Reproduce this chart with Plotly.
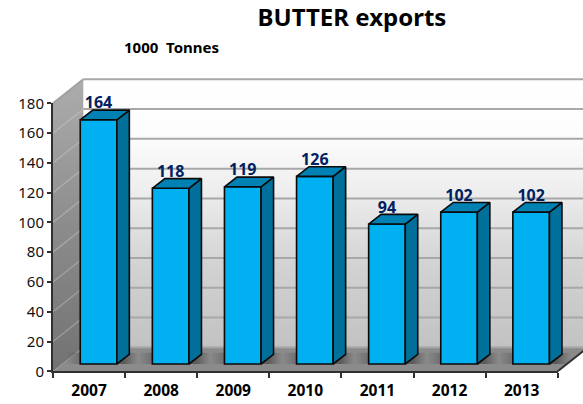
import plotly.graph_objects as go

years = ["2007", "2008", "2009", "2010", "2011", "2012", "2013"]
exports = [164, 118, 119, 126, 94, 102, 102]
value_ticks = [0, 20, 40, 60, 80, 100, 120, 140, 160, 180]
title_text = "BUTTER exports"
unit_text = "1000  Tonnes"

W, H = 583, 404
AX_L, AX_R, AX_B, AX_T = 53.0, 557.7, 371.3, 103.3
PX_X = (AX_R - AX_L) / 7
PX_Y = (AX_B - AX_T) / 180

# depth of the fake 3D box, in axis units
WALL_DX, WALL_DY = 30.3 / PX_X, 24.0 / PX_Y
BAR_OX, BAR_OY = 9.5 / PX_X, 7.3 / PX_Y
BAR_DX, BAR_DY = 12.5 / PX_X, 9.7 / PX_Y
BAR_W = 36.6 / PX_X
X0, X1 = -0.5, 6.5

full_x = [X0 - AX_L / PX_X, X0 + (W - AX_L) / PX_X]
full_y = [-(H - AX_B) / PX_Y, AX_B / PX_Y]

fig = go.Figure()


def poly(xs, ys, axes, **kw):
    fig.add_trace(go.Scatter(x=xs + xs[:1], y=ys + ys[:1], mode="lines", fill="toself",
                             xaxis=axes[0], yaxis=axes[1], hoverinfo="skip",
                             showlegend=False, **kw))


def seg(xs, ys, color, width, axes=("x", "y")):
    fig.add_trace(go.Scatter(x=xs, y=ys, mode="lines", line=dict(color=color, width=width),
                             xaxis=axes[0], yaxis=axes[1], hoverinfo="skip", showlegend=False))


back = ("x", "y")
front = ("x2", "y2")

# back wall
poly([X0 + WALL_DX, X1 + WALL_DX + 1, X1 + WALL_DX + 1, X0 + WALL_DX],
     [WALL_DY, WALL_DY, 180 + WALL_DY, 180 + WALL_DY], back,
     line=dict(width=0),
     fillgradient=dict(type="vertical",
                       colorscale=[[0, "#c2c2c2"], [0.3, "#d2d2d2"], [0.6, "#efefef"],
                                   [0.8, "#fdfdfd"], [1, "#ffffff"]]))
# side wall
poly([X0, X0 + WALL_DX, X0 + WALL_DX, X0],
     [0, WALL_DY, 180 + WALL_DY, 180], back,
     line=dict(width=0),
     fillgradient=dict(type="vertical",
                       colorscale=[[0, "#727272"], [0.5, "#8c8c8c"], [1, "#adadad"]]))
# floor
poly([X0, X1, X1 + WALL_DX, X0 + WALL_DX], [0, 0, WALL_DY, WALL_DY], back,
     line=dict(width=0), fillcolor="#8b8b8b")

# grid
for v in value_ticks:
    seg([X0 + WALL_DX, X1 + WALL_DX + 1], [v + WALL_DY, v + WALL_DY], "#a8a8a8", 2)
    if 0 < v < 180:
        seg([X0, X0 + WALL_DX], [v, v + WALL_DY], "rgba(205,205,205,0.4)", 1.5)
seg([X0, X0 + WALL_DX], [180, 180 + WALL_DY], "#a0a0a0", 2)
seg([X1, X1 + WALL_DX], [0, WALL_DY], "#303030", 2)

# soft shadows on the floor
for i in range(len(years)):
    left = i + BAR_OX - BAR_W / 2
    right = left + BAR_W
    poly([left - 0.2, right + 0.3, right + 0.3, left - 0.2],
         [BAR_OY, BAR_OY, BAR_OY + BAR_DY + 1, BAR_OY + BAR_DY + 1], back,
         line=dict(width=0),
         fillgradient=dict(type="horizontal",
                           colorscale=[[0, "rgba(60,60,60,0)"], [0.25, "rgba(60,60,60,0.45)"],
                                       [0.8, "rgba(50,50,50,0.55)"], [1, "rgba(60,60,60,0)"]]))

# front faces of the bars
xs_bar = [i + BAR_OX for i in range(len(years))]
fig.add_trace(go.Bar(x=xs_bar, y=exports, base=BAR_OY, width=BAR_W, xaxis="x2", yaxis="y2",
                     marker=dict(color="#00b0f0", line=dict(color="#0a0a0a", width=1.6)),
                     hoverinfo="skip", showlegend=False))

# side and top faces, labels
edge = dict(color="#0a0a0a", width=1.6)
for xc, v in zip(xs_bar, exports):
    l, r = xc - BAR_W / 2, xc + BAR_W / 2
    top = v + BAR_OY
    poly([r, r + BAR_DX, r + BAR_DX, r], [BAR_OY, BAR_OY + BAR_DY, top + BAR_DY, top], front,
         line=edge, fillcolor="#006f9a")
    poly([l, r, r + BAR_DX, l + BAR_DX], [top, top, top + BAR_DY, top + BAR_DY], front,
         line=edge, fillcolor="#0081b3")

fig.add_trace(go.Scatter(x=xs_bar, y=[v + BAR_OY + BAR_DY - 1.5 for v in exports],
                         mode="text", text=[str(v) for v in exports],
                         textposition="top center",
                         textfont=dict(family="Noto Sans", size=16, color="#002060", weight="bold"),
                         xaxis="x2", yaxis="y2", hoverinfo="skip", showlegend=False))

# visible axes (trace only carries the category names)
fig.add_trace(go.Scatter(x=years, y=exports, mode="markers", marker=dict(opacity=0),
                         xaxis="x3", yaxis="y3", hoverinfo="skip", showlegend=False))

hidden = dict(visible=False, fixedrange=True, automargin=False)
fig.update_layout(
    template="none",
    width=W, height=H, margin=dict(l=0, r=0, t=0, b=0, pad=0, autoexpand=False), autosize=False,
    paper_bgcolor="white", plot_bgcolor="rgba(0,0,0,0)", barmode="overlay",
    font=dict(family="Noto Sans", color="#111111", size=14),
    title=dict(text=title_text, x=352 / W, xanchor="center", y=1 - 18 / H, yanchor="middle",
               font=dict(family="Noto Sans", size=24, color="#000000", weight="bold")),
    annotations=[dict(text=unit_text, xref="paper", yref="paper", x=121.5 / W, y=1 - 47 / H,
                      xanchor="left", yanchor="middle", showarrow=False,
                      font=dict(family="Noto Sans", size=15, color="#000000", weight="bold"))],
    xaxis=dict(domain=[0, 1], range=full_x, anchor="y", **hidden),
    yaxis=dict(domain=[0, 1], range=full_y, anchor="x", **hidden),
    xaxis2=dict(domain=[0, 1], range=full_x, anchor="y2", **hidden),
    yaxis2=dict(domain=[0, 1], range=full_y, anchor="x2", **hidden),
    xaxis3=dict(domain=[AX_L / W, AX_R / W], anchor="y3", type="category",
                categoryorder="array", categoryarray=years, tickson="boundaries",
                range=[X0, X1], ticks="outside", ticklen=5, tickwidth=1.5, tickcolor="#303030",
                ticklabelstandoff=4,
                showline=True, linecolor="#303030", linewidth=2, showgrid=False, zeroline=False,
                tickfont=dict(family="Noto Sans", size=15.5, color="#000000", weight="bold"),
                fixedrange=True, automargin=False),
    yaxis3=dict(domain=[(H - AX_B) / H, (H - AX_T) / H], anchor="x3", range=[0, 180],
                tickmode="array", tickvals=value_ticks, ticktext=[str(v) for v in value_ticks],
                ticks="outside", ticklen=4, tickwidth=1.5, tickcolor="#303030",
                showline=True, linecolor="#303030", linewidth=2, showgrid=False, zeroline=False,
                tickfont=dict(family="Noto Sans", size=15, color="#111111"), fixedrange=True,
                automargin=False),
)

fig.write_html("out.html", config=dict(displayModeBar=False),
               post_script="document.body.style.margin='0';document.documentElement.style.overflow='hidden';")
